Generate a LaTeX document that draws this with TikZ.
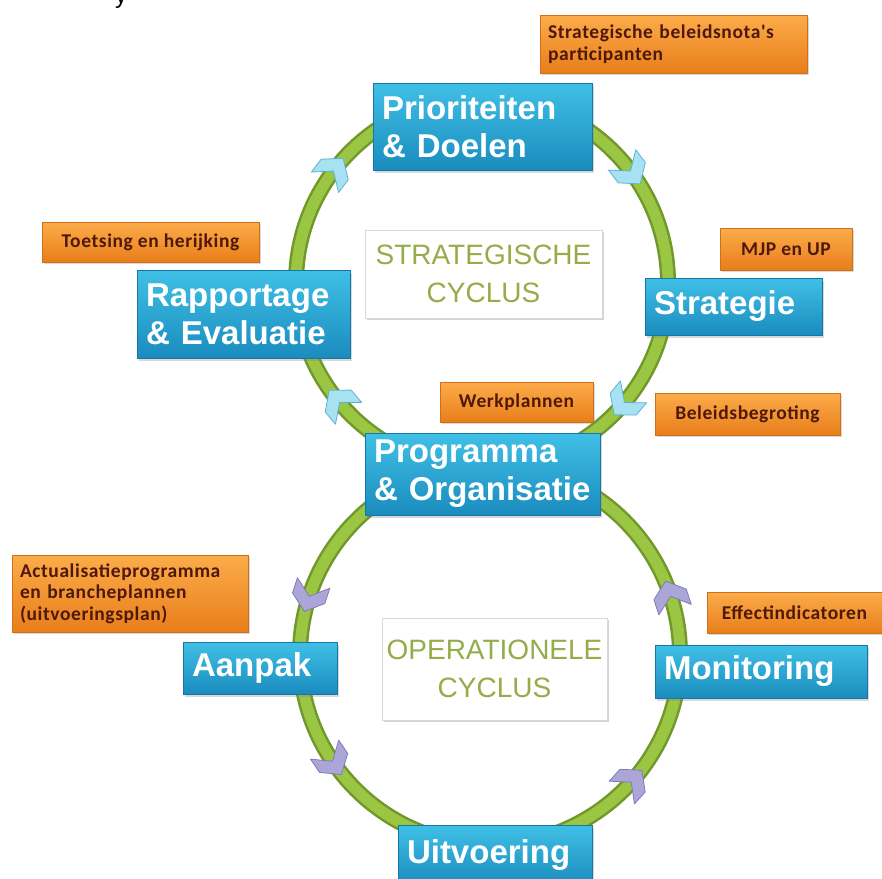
\documentclass[tikz,border=0pt]{standalone}
\usepackage{fontspec}
\setmainfont{Liberation Sans}
\newfontfamily\notefont[LetterSpace=3]{Carlito}
\usepackage{tikz}
\usepackage{xcolor}
\usetikzlibrary{positioning, calc, shadows}
\definecolor{stagetop}{RGB}{64,192,230}
\definecolor{stagebot}{RGB}{26,140,190}
\definecolor{stageedge}{RGB}{22,118,165}
\definecolor{notetop}{RGB}{252,172,74}
\definecolor{notebot}{RGB}{232,126,26}
\definecolor{noteedge}{RGB}{205,112,25}
\definecolor{notetext}{RGB}{78,24,10}
\definecolor{cycletext}{RGB}{150,172,72}
\definecolor{ringedge}{RGB}{112,152,42}
\definecolor{ringfill}{RGB}{154,198,68}
\definecolor{chevupfill}{RGB}{168,226,242}
\definecolor{chevupedge}{RGB}{88,180,212}
\definecolor{chevlowfill}{RGB}{172,166,216}
\definecolor{chevlowedge}{RGB}{128,122,188}
\tikzstyle{stage}  = [rectangle, draw=stageedge, line width=0.8pt, top color=stagetop, bottom color=stagebot,
                      text=white, align=left, inner xsep=9pt, inner ysep=3pt,
                      font=\fontsize{33}{38}\selectfont\bfseries,
                      drop shadow={opacity=0.3, shadow xshift=2pt, shadow yshift=-3pt}]
\tikzstyle{note}   = [rectangle, draw=noteedge, line width=0.6pt, top color=notetop, bottom color=notebot,
                      text=notetext, align=center, inner xsep=8pt, inner ysep=3pt,
                      font=\notefont\bfseries\fontsize{19.5}{21.5}\selectfont,
                      drop shadow={opacity=0.3, shadow xshift=2pt, shadow yshift=-2pt}]
\tikzstyle{cyclelabel} = [rectangle, draw=black!15, fill=white, text=cycletext, align=center,
                      font=\fontsize{28}{38}\selectfont,
                      drop shadow={opacity=0.35, shadow xshift=2pt, shadow yshift=-2pt}]
\tikzstyle{ringdark}  = [draw=ringedge, line width=16pt]
\tikzstyle{ringlight} = [draw=ringfill, line width=11pt]
\tikzstyle{chevup}  = [fill=chevupfill, draw=chevupedge, line width=0.8pt, line join=round]
\tikzstyle{chevlow} = [fill=chevlowfill, draw=chevlowedge, line width=0.8pt, line join=round]

\begin{document}
\begin{tikzpicture}[x=1pt, y=1pt]
    \useasboundingbox (0,0) rectangle (882,-878);

    % Ring centres
    \coordinate (upc) at (482,-283);
    \coordinate (loc) at (490,-655);

    % Green rings
    \draw[ringdark]  (upc) circle[radius=186pt];
    \draw[ringlight] (upc) circle[radius=186pt];
    \draw[ringdark]  (loc) circle[radius=190pt];
    \draw[ringlight] (loc) circle[radius=190pt];

    % Chevrons (strategic cycle runs clockwise, operational cycle the other way)
    \foreach \a in {143,37,-40,220}
        \draw[chevup, shift={($(upc)+(\a:186pt)$)}, rotate=\a-90]
            (-14,17) -- (2,17) -- (16,0) -- (2,-17) -- (-14,-17) -- (0,0) -- cycle;
    \foreach \a in {162,214,-42,18}
        \draw[chevlow, shift={($(loc)+(\a:190pt)$)}, rotate=\a+90]
            (-14,17) -- (2,17) -- (16,0) -- (2,-17) -- (-14,-17) -- (0,0) -- cycle;

    % Stages
    \node (prio)   [stage, text width=201pt, minimum height=87pt] at (482.5,-126.5) {Prioriteiten\\\& Doelen};
    \node (rapp)   [stage, text width=195pt, minimum height=88pt] at (243.5,-314) {Rapportage\\\& Evaluatie};
    \node (strat)  [stage, text width=159pt, minimum height=57pt] at (733.5,-306.5) {Strategie};
    \node (prog)   [stage, text width=217pt, minimum height=82pt] at (482.5,-474) {Programma\\\& Organisatie};
    \node (aanpak) [stage, text width=136pt, minimum height=52pt] at (260,-668) {Aanpak};
    \node (monit)  [stage, text width=194pt, minimum height=53pt] at (761,-671.5) {Monitoring};
    \node (uitv)   [stage, text width=176pt, minimum height=60pt] at (495,-855) {Uitvoering};

    % Cycle names
    \node (stratcyc) [cyclelabel, minimum width=237pt, minimum height=88pt] at (483.5,-274) {STRATEGISCHE\\CYCLUS};
    \node (opercyc)  [cyclelabel, minimum width=225pt, minimum height=102pt] at (494.5,-669) {OPERATIONELE\\CYCLUS};

    % Products
    \node (nota)   [note, text width=251pt, minimum height=58pt, align=left] at (673.5,-44) {Strategische beleidsnota's\\participanten};
    \node (toets)  [note, minimum width=217pt, minimum height=40pt] at (150.5,-242) {Toetsing en herijking};
    \node (mjp)    [note, minimum width=132pt, minimum height=42pt] at (786,-249) {MJP en UP};
    \node (werk)   [note, minimum width=153pt, minimum height=40pt] at (516.5,-402) {Werkplannen};
    \node (beleid) [note, minimum width=185pt, minimum height=42pt] at (747.5,-414) {Beleidsbegroting};
    \node (actual) [note, text width=220pt, minimum height=77pt, align=left] at (130,-593.5) {Actualisatieprogramma\\en brancheplannen\\(uitvoeringsplan)};
    \node (effect) [note, minimum width=175pt, minimum height=41pt] at (794.5,-612.5) {Effectindicatoren};

    % Cut-off letter at the top edge
    \node (frag) [font=\fontsize{24}{24}\selectfont, anchor=base, inner sep=0pt] at (121,-3) {y};
\end{tikzpicture}
\end{document}
